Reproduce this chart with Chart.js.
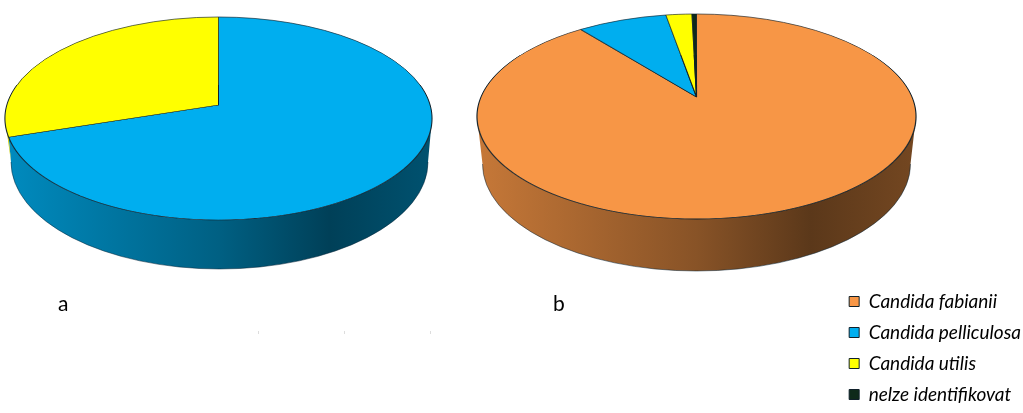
<!DOCTYPE html>
<html>
<head>
<meta charset="utf-8">
<script src="https://cdn.jsdelivr.net/npm/chart.js@4/dist/chart.umd.min.js"></script>
<style>
  html, body { margin: 0; background: #fff; overflow: hidden; }
  #page { position: relative; width: 1023px; height: 413px; overflow: hidden; }
  canvas { position: absolute; top: 0; }
  #chartA { left: 0; }
  #chartB { left: 440px; }
  .tag { position: absolute; top: 290px; font: 21px Lato, sans-serif; color: #000; }
  .speck { position: absolute; top: 331px; width: 1px; height: 3px; background: #ddd; }
</style>
</head>
<body>
<div id="page">
  <canvas id="chartA" width="440" height="413"></canvas>
  <canvas id="chartB" width="591" height="416"></canvas>
  <span class="tag" style="left:58px">a</span>
  <span class="tag" style="left:553px">b</span>
  <i class="speck" style="left:258px"></i>
  <i class="speck" style="left:344px"></i>
  <i class="speck" style="left:430px"></i>
</div>
<script>
const categories = ['Candida fabianii', 'Candida pelliculosa', 'Candida utilis', 'nelze identifikovat'];
const valuesA = [0, 70, 30, 0];
const valuesB = [89.4, 7.9, 2.3, 0.4];
const colors = ['#F79646', '#00AEEF', '#FFFF00', '#0E2A1A'];

// shading of the side wall, left to right
const wallStops = [[0, 0.8], [0.5, 0.55], [0.76, 0.37], [1, 0.47]];

// top/bottom/rx is the top face, cy is where the pie centre lands
const viewA = { cx: 218.5, cy: 105, rx: 213.5, top: 17, bottom: 220, wallCx: 219.5, wallCy: 162, wallRx: 208.5, wallRy: 107 };
const viewB = { cx: 256.5, cy: 97, rx: 219.5, top: 14, bottom: 219, wallCx: 256.5, wallCy: 164, wallRx: 214, wallRy: 107 };

const shade = (hex, k) => {
  const n = parseInt(hex.slice(1), 16);
  return `rgb(${Math.round((n >> 16) * k)},${Math.round(((n >> 8) & 255) * k)},${Math.round((n & 255) * k)})`;
};

// Perspective of the pie plane: circle -> ellipse, centre stays on (cx, cy)
const perspective = (v) => {
  const up = v.cy - v.top;
  const down = v.bottom - v.cy;
  const k = (up - down) / (up + down);
  return { k, a: v.rx * Math.sqrt(1 - k * k), b: down * (1 + k), midY: (v.top + v.bottom) / 2, ry: (v.bottom - v.top) / 2 };
};

// element angle -> angle on the projected ellipse
const projectAngle = (v, p, t) => {
  if (t >= 1.5 * Math.PI - 1e-6) return 1.5 * Math.PI;
  const s = 1 + p.k * Math.sin(t);
  const x = (p.a * Math.cos(t)) / s;
  const y = v.cy + (p.b * Math.sin(t)) / s;
  let out = Math.atan2((y - p.midY) / p.ry, x / v.rx);
  if (out < -Math.PI / 2) out += 2 * Math.PI;
  return out;
};

// Chart.js only knows flat pies, so the arcs are projected here and given a wall
const tiltPlugin = (v) => {
  const p = perspective(v);
  return {
    id: 'tilt',
    beforeDatasetsDraw(chart) {
      const ctx = chart.ctx;
      chart.getDatasetMeta(0).data.forEach((arc, i) => {
        if (arc.circumference === 0) return;
        const from = Math.max(projectAngle(v, p, arc.startAngle), 0);
        const to = Math.min(projectAngle(v, p, arc.endAngle), Math.PI);
        if (to <= from) return;
        // splits between wall pieces run straight down
        const under = (t) => Math.acos(Math.max(-1, Math.min(1, (Math.cos(t) * v.rx) / v.wallRx)));
        const grad = ctx.createLinearGradient(v.cx - v.rx, 0, v.cx + v.rx, 0);
        wallStops.forEach(([pos, f]) => grad.addColorStop(pos, shade(colors[i], f)));
        ctx.beginPath();
        ctx.ellipse(v.cx, p.midY, v.rx, p.ry, 0, from, to);
        ctx.ellipse(v.wallCx, v.wallCy, v.wallRx, v.wallRy, 0, under(to), under(from), true);
        ctx.closePath();
        ctx.fillStyle = grad;
        ctx.fill();
        ctx.beginPath();
        ctx.ellipse(v.wallCx, v.wallCy, v.wallRx, v.wallRy, 0, under(from), under(to));
        ctx.strokeStyle = 'rgba(0,30,50,0.7)';
        ctx.lineWidth = 0.7;
        ctx.stroke();
      });
    },
    beforeDatasetDraw(chart) {
      const ctx = chart.ctx;
      const arcs = chart.getDatasetMeta(0).data;
      const R = arcs[0].outerRadius;
      // one pixel row at a time, canvas transforms are affine only
      for (let row = Math.floor(v.top) - 1; row <= Math.ceil(v.bottom) + 1; row++) {
        const d = row + 0.5 - v.cy;
        const y = d / (p.b - p.k * d);
        if (Math.abs(y) > 1.02) continue;
        const s = 1 + p.k * y;
        ctx.save();
        ctx.beginPath();
        ctx.rect(0, row, chart.width, 1);
        ctx.clip();
        ctx.translate(v.cx, row + 0.5);
        ctx.scale(p.a / s / R, p.b / (s * s) / R);
        ctx.translate(-arcs[0].x, -(arcs[0].y + y * R));
        arcs.forEach((arc) => arc.draw(ctx));
        ctx.restore();
      }
      return false;
    },
  };
};

const makePie = (id, values, view, showLegend) => new Chart(document.getElementById(id), {
  type: 'pie',
  data: {
    labels: categories,
    datasets: [{ data: values, backgroundColor: colors, borderColor: '#10202a', borderWidth: 1 }],
  },
  options: {
    responsive: false,
    animation: false,
    plugins: {
      tooltip: { enabled: false },
      legend: {
        display: showLegend,
        position: 'right',
        align: 'end',
        labels: {
          boxWidth: 10,
          boxHeight: 10,
          padding: 12,
          color: '#000',
          font: { family: 'Lato', size: 19, style: 'italic' },
        },
      },
    },
  },
  plugins: [tiltPlugin(view)],
});

makePie('chartA', valuesA, viewA, false);
makePie('chartB', valuesB, viewB, true);
</script>
</body>
</html>
